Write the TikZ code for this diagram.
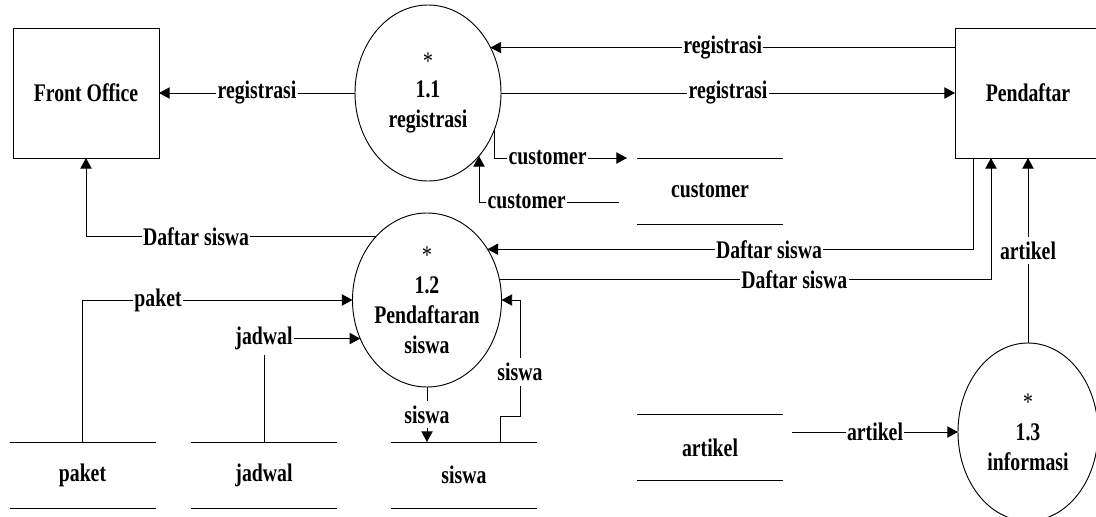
\documentclass[tikz,border=0pt]{standalone}
\usepackage{fontspec}
\newfontfamily\dfdfont[FakeStretch=0.78]{Liberation Serif}
\usetikzlibrary{arrows.meta,shapes.geometric}

\begin{document}
\begin{tikzpicture}[x=0.75pt,y=-0.75pt,line width=0.7pt,
	font=\dfdfont\bfseries\fontsize{19}{22.5}\selectfont,
	entity/.style={rectangle,draw,minimum width=109.5pt,minimum height=97.5pt,inner sep=0pt,outer sep=0pt},
	proc/.style={ellipse,draw,align=center,inner sep=0pt,outer sep=0pt},
	store/.style={rectangle,minimum width=109.5pt,minimum height=49.5pt,inner sep=0pt,outer sep=0pt},
	flow/.style={-{Triangle[length=8pt,width=8.5pt]}},
	lbl/.style={fill=white,inner xsep=1pt,inner ysep=3.5pt}]
	\useasboundingbox (0,0) rectangle (1096,517);
	% external entities
	\node (fo) at (86,93) [entity] {Front Office};
	\node (pend) at (1028,93) [entity] {Pendaftar};
	% processes
	\node (p11) at (428,93) [proc,minimum width=109.5pt,minimum height=132pt] {{\mdseries *}\\[-2pt] 1.1\\ registrasi};
	\node (p12) at (427,300) [proc,minimum width=108pt,minimum height=130.5pt] {{\mdseries *}\\ 1.2\\ Pendaftaran\\ siswa};
	\node (p13) at (1028,432) [proc,minimum width=105pt,minimum height=133.5pt] {{\mdseries *}\\ 1.3\\ informasi};
	% data stores
	\node (cust) at (710,191) [store] {customer};
	\node (paket) at (82.5,475) [store] {paket};
	\node (jadwal) at (264,475) [store] {jadwal};
	\node (siswa) at (464,475) [store] {siswa};
	\node (art) at (710,447.5) [store] {artikel};
	\foreach \s in {cust,paket,jadwal,siswa,art}
		\draw (\s.north west) -- (\s.north east) (\s.south west) -- (\s.south east);
	\coordinate (cout) at (627,158);
	\coordinate (cin) at (619,202);
	\coordinate (aout) at (792,432);
	% flows
	\draw [flow] (pend.west |- p11.36) -- node[lbl] {registrasi} (p11.36);
	\draw [flow] (p11) -- node[lbl] {registrasi} (pend);
	\draw [flow] (p11) -- node[lbl] {registrasi} (fo);
	\draw [flow] (p11.-28) |- node[lbl,pos=0.7] {customer} (cout);
	\draw [flow] (cin) -| node[lbl,pos=0.33] {customer} (p11.-51);
	\draw [flow] (p12.129) -| node[lbl,pos=0.31] {Daftar siswa} (fo);
	\draw [flow] ([xshift=13.5pt]pend.south west) |- node[lbl,pos=0.71] {Daftar siswa} (p12.40);
	\draw [flow] (p12.16) -| node[lbl,pos=0.3] {Daftar siswa} ([xshift=27pt]pend.south west);
	\draw [flow] (p13) -- node[lbl] {artikel} (pend);
	\draw [flow] (paket) |- node[lbl,pos=0.64] {paket} (p12);
	\draw [flow] (jadwal) |- node[lbl] {jadwal} (p12.210);
	\draw [flow] (p12) -- node[lbl] {siswa} (p12.south |- siswa.north);
	\draw [flow] ([xshift=27pt]siswa.north) -- ++(0,-26) -- ++(20,0) |- node[lbl,pos=0.19] {siswa} (p12);
	\draw [flow] (aout) -- node[lbl] {artikel} (p13);
\end{tikzpicture}
\end{document}
